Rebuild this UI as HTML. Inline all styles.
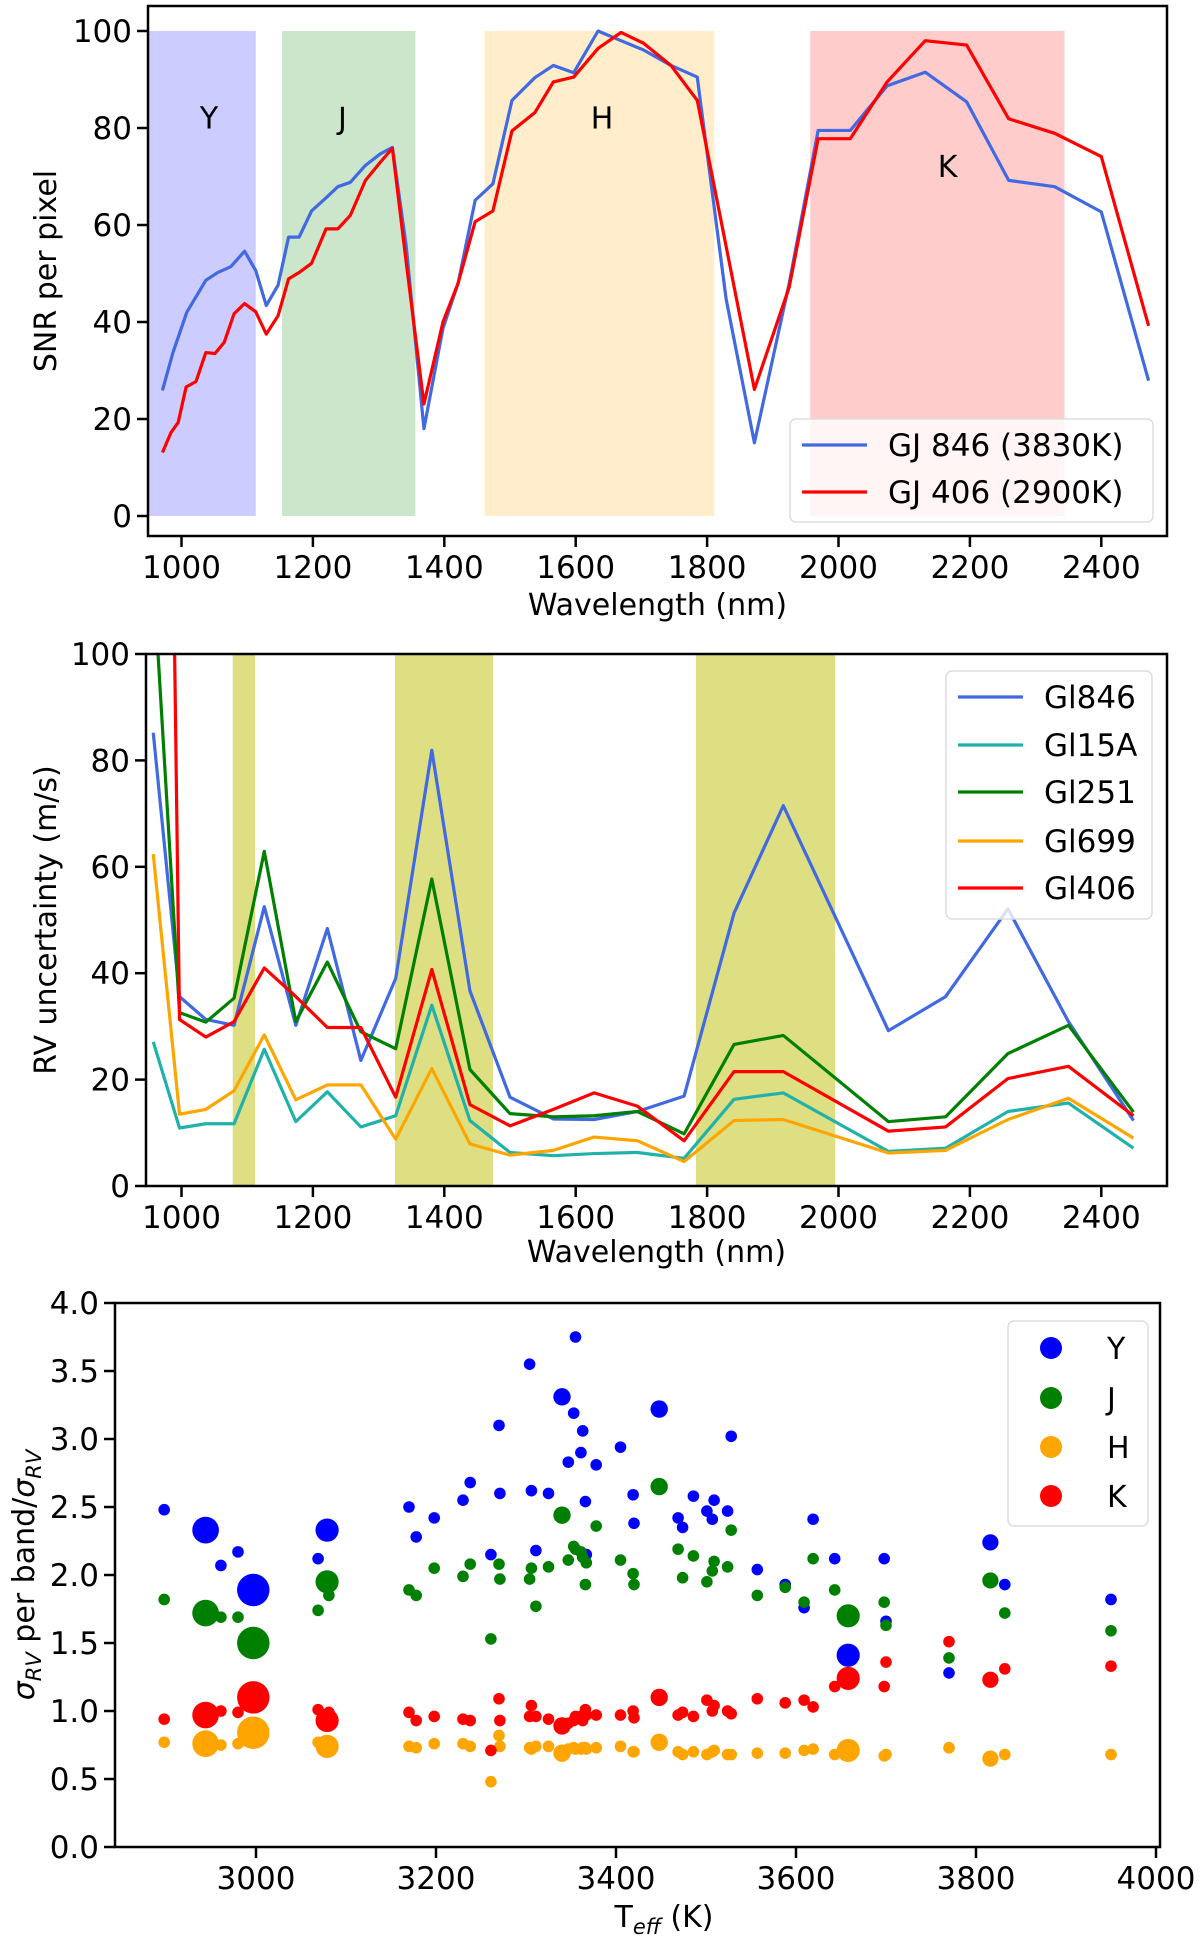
<!DOCTYPE html>
<html><head><meta charset="utf-8"><style>
html,body{margin:0;padding:0;background:#fff;}
svg{display:block;font-family:"DejaVu Sans","Liberation Sans",sans-serif;}
</style></head>
<body>
<svg id="fig" width="1200" height="1938" viewBox="0 0 1200 1938" xmlns="http://www.w3.org/2000/svg">
<defs>
<clipPath id="c1"><rect x="148" y="6" width="1019" height="530"/></clipPath>
<clipPath id="c2"><rect x="146" y="654" width="1021" height="532"/></clipPath>
</defs>
<g id="p1"></g>
<g id="p2"></g>
<g id="p3"></g>
</svg>
<script>
// ---------- Panel 1 data ----------
const snrBlueX = [971,987,1008,1037,1055,1075,1096,1113,1129,1147,1163,1179,1198,1220,1238,1257,1280,1303,1321,1342,1369,1398,1421,1447,1474,1503,1538,1566,1597,1634,1669,1703,1745,1785,1829,1872,1925,1969,2018,2074,2132,2195,2259,2329,2400,2472];
const snrBlueY = [25.9,33.7,42,48.6,50.2,51.4,54.6,50.6,43.4,47.6,57.5,57.5,62.9,65.6,67.9,68.8,72.3,74.7,76,55.7,18,38.7,48,65.1,68.5,85.7,90.4,92.9,91.4,100,98,96.1,92.9,90.5,44.7,15.1,48,79.5,79.5,88.7,91.5,85.4,69.2,67.9,62.7,27.9];
const snrRedX = [971,984,995,1007,1022,1037,1051,1065,1080,1096,1113,1129,1147,1163,1179,1198,1220,1238,1257,1280,1303,1321,1342,1369,1398,1421,1447,1474,1503,1538,1566,1597,1634,1669,1703,1745,1785,1872,1925,1969,2018,2074,2132,2195,2259,2329,2400,2472];
const snrRedY = [13.1,17.2,19.3,26.6,27.7,33.7,33.5,35.8,41.7,43.8,42.1,37.5,41.3,48.9,50.2,52.1,59.2,59.2,62,69.2,73,75.8,52.3,23.1,40,48,60.7,62.9,79.4,83.2,89.5,90.5,96.4,99.7,97.5,92.9,85.7,26.1,47.2,77.8,77.8,89.5,98,97.1,81.9,78.9,74.1,39.2];
const bandNames = ["Y","J","H","K"];
const bandStart = [949,1153,1461,1957];
const bandEnd = [1113,1356,1811,2344];
const bandLabelX = [1042,1245,1640,2166];
const bandLabelY = [82,82,82,72];
const p1TicksX = [1000,1200,1400,1600,1800,2000,2200,2400];
const p1TicksY = [0,20,40,60,80,100];

// ---------- Panel 2 data ----------
const rvX = [957,997,1037,1080,1126,1174,1222,1273,1326,1381,1439,1500,1566,1628,1694,1765,1841,1916,2076,2163,2258,2350,2449];
const rvGl846 = [85.2,35.6,31.3,30.2,52.5,30.2,48.4,23.6,39,81.9,36.7,16.7,12.6,12.5,14,16.9,51.3,71.5,29.2,35.6,52.1,30.9,12.3];
const rvGl15A = [27.1,10.9,11.7,11.7,25.7,12.1,17.7,11.1,13.2,34,12.3,6.3,5.7,6.1,6.3,5.2,16.3,17.5,6.5,7.1,14,15.6,7.1];
const rvGl251 = [115,32.6,30.8,35.3,62.9,30.9,42.1,29,25.8,57.7,21.9,13.6,13,13.2,14,9.8,26.6,28.3,12.1,13,24.9,30.2,13.9];
const rvGl699 = [62.4,13.5,14.4,17.9,28.4,16.2,19,19,8.8,22.1,7.9,5.8,6.7,9.2,8.5,4.6,12.3,12.5,6.2,6.7,12.5,16.5,9];
const rvGl406 = [400,31.3,28,30.9,41,35.6,29.8,29.8,16.7,40.7,15.3,11.3,14.4,17.5,15,8.5,21.5,21.5,10.3,11.1,20.2,22.5,13.2];
const shadeStart = [1078,1325,1783];
const shadeEnd = [1112,1474,1995];
const p2TicksX = [1000,1200,1400,1600,1800,2000,2200,2400];
const p2TicksY = [0,20,40,60,80,100];

// ---------- Panel 3 data ----------
const teff = [2898,2944,2961,2980,2997,3069,3079,3081,3170,3178,3198,3230,3238,3261,3270,3271,3304,3306,3311,3325,3340,3347,3353,3355,3361,3363,3366,3367,3378,3405,3419,3420,3448,3469,3474,3486,3501,3507,3509,3524,3528,3557,3588,3609,3619,3643,3658,3698,3700,3770,3816,3832,3950];
const ratioY = [2.48,2.33,2.07,2.17,1.89,2.12,2.33,2.33,2.50,2.28,2.42,2.55,2.68,2.15,3.10,2.60,3.55,2.62,2.18,2.60,3.31,2.83,3.19,3.75,2.90,3.06,2.54,2.15,2.81,2.94,2.59,2.38,3.22,2.42,2.35,2.58,2.47,2.41,2.55,2.47,3.02,2.04,1.93,1.76,2.41,2.12,1.41,2.12,1.66,1.28,2.24,1.93,1.82];
const ratioJ = [1.82,1.72,1.69,1.69,1.50,1.74,1.95,1.85,1.89,1.85,2.05,1.99,2.08,1.53,2.08,1.97,1.97,2.05,1.77,2.06,2.44,2.11,2.21,2.19,2.17,2.13,1.93,2.09,2.36,2.11,2.01,1.93,2.65,2.19,1.98,2.14,1.95,2.03,2.10,2.06,2.33,1.85,1.91,1.80,2.12,1.89,1.70,1.80,1.63,1.39,1.96,1.72,1.59];
const ratioH = [0.77,0.76,0.75,0.76,0.84,0.77,0.74,0.76,0.74,0.73,0.76,0.76,0.74,0.48,0.82,0.74,0.73,0.72,0.74,0.74,0.69,0.72,0.73,0.72,0.72,0.73,0.73,0.72,0.73,0.74,0.70,0.70,0.77,0.70,0.68,0.70,0.68,0.70,0.71,0.68,0.68,0.69,0.69,0.71,0.72,0.68,0.71,0.67,0.68,0.73,0.65,0.68,0.68];
const ratioK = [0.94,0.97,1.00,0.99,1.10,1.01,0.93,0.99,0.99,0.93,0.96,0.94,0.93,0.71,1.09,0.93,0.96,1.04,0.96,0.94,0.89,0.91,0.93,0.96,0.96,0.93,1.01,0.97,0.97,0.97,1.00,0.95,1.10,0.97,0.99,0.96,1.08,1.00,1.04,1.00,0.98,1.09,1.06,1.08,1.03,1.18,1.24,1.18,1.36,1.51,1.23,1.31,1.33];
const starSize = [1,2.3,1,1,2.8,1,2,1,1,1,1,1,1,1,1,1,1,1,1,1,1.5,1,1,1,1,1,1,1,1,1,1,1,1.5,1,1,1,1,1,1,1,1,1,1,1,1,1,2,1,1,1,1.4,1,1];
const p3TicksX = [3000,3200,3400,3600,3800,4000];
const p3TicksY = [0.0,0.5,1.0,1.5,2.0,2.5,3.0,3.5,4.0];

const NS = "http://www.w3.org/2000/svg";
function mk(parent, tag, attrs, text){
  const e = document.createElementNS(NS, tag);
  for (const k in attrs) e.setAttribute(k, attrs[k]);
  if (text !== undefined) e.textContent = text;
  parent.appendChild(e);
  return e;
}

// ---- Panel 1 ----
(function(){
  const g = document.getElementById('p1');
  const L=148,R=1167,T=6,B=536;
  const sx = v => 181.5 + (v-1000)*0.657;
  const sy = v => 516 - v*4.85;
  const bandColors = ["rgba(0,0,255,0.2)","rgba(0,128,0,0.2)","rgba(255,165,0,0.2)","rgba(255,0,0,0.2)"];
  for (let i=0;i<bandNames.length;i++){
    const r = mk(g,'rect',{x:sx(bandStart[i]),y:sy(100),width:sx(bandEnd[i])-sx(bandStart[i]),height:sy(0)-sy(100),fill:bandColors[i]});
    
    
    const t = mk(g,'text',{x:sx(bandLabelX[i]),y:sy(bandLabelY[i])+10,'font-size':30,'text-anchor':'middle',fill:'#000'},bandNames[i]);
    
    
  }
  const series = [[snrBlueX,snrBlueY,'#4169e1','gj846-line'],[snrRedX,snrRedY,'#ff0000','gj406-line']];
  for (const s of series){
    const p = mk(g,'polyline',{points:s[0].map((x,i)=>sx(x)+','+sy(s[1][i])).join(' '),fill:'none',stroke:s[2],'stroke-width':3.2,'stroke-linejoin':'round','clip-path':'url(#c1)'});
    
    
  }
  axes(g,L,R,T,B,p1TicksX,p1TicksY,sx,sy,v=>String(v),'Wavelength (nm)','SNR per pixel',605,46,'p1');
  const lg = mk(g,'g',{});
  
  
  mk(lg,'rect',{x:790,y:419,width:363,height:103,rx:6,fill:'rgba(255,255,255,0.8)',stroke:'#ddd','stroke-width':1.5});
  const le = [['GJ 846 (3830K)','#4169e1',445],['GJ 406 (2900K)','#ff0000',492]];
  for (const e of le){
    const ln = mk(lg,'line',{x1:802,x2:867,y1:e[2],y2:e[2],stroke:e[1],'stroke-width':3.2});
    
    
    const t = mk(lg,'text',{x:888,y:e[2]+11,'font-size':31,fill:'#000'},e[0]);
    
    
  }
})();

// ---- Panel 2 ----
(function(){
  const g = document.getElementById('p2');
  const L=146,R=1167,T=654,B=1186;
  const sx = v => 181.5 + (v-1000)*0.657;
  const sy = v => 1186 - v*5.32;
  for (let i=0;i<shadeStart.length;i++){
    const r = mk(g,'rect',{x:sx(shadeStart[i]),y:T,width:sx(shadeEnd[i])-sx(shadeStart[i]),height:B-T,fill:'#dede82'});
    
    
  }
  const series = [[rvGl846,'#4169e1','Gl846'],[rvGl15A,'#20b2aa','Gl15A'],[rvGl251,'#008000','Gl251'],[rvGl699,'#ffa500','Gl699'],[rvGl406,'#ff0000','Gl406']];
  for (const s of series){
    const p = mk(g,'polyline',{points:rvX.map((x,i)=>sx(x)+','+sy(s[0][i])).join(' '),fill:'none',stroke:s[1],'stroke-width':3.2,'stroke-linejoin':'round','clip-path':'url(#c2)'});
    
    
  }
  axes(g,L,R,T,B,p2TicksX,p2TicksY,sx,sy,v=>String(v),'Wavelength (nm)','RV uncertainty (m/s)',1252,46,'p2');
  const lg = mk(g,'g',{});
  
  
  mk(lg,'rect',{x:946,y:671,width:206,height:248,rx:6,fill:'rgba(255,255,255,0.8)',stroke:'#ddd','stroke-width':1.5});
  const ys=[697,745,792,841,888];
  series.forEach((s,i)=>{
    const ln = mk(lg,'line',{x1:958,x2:1023,y1:ys[i],y2:ys[i],stroke:s[1],'stroke-width':3.2});
    
    
    const t = mk(lg,'text',{x:1044,y:ys[i]+11,'font-size':31,fill:'#000'},s[2]);
    
    
  });
})();

// ---- Panel 3 ----
(function(){
  const g = document.getElementById('p3');
  const L=115,R=1160,T=1303,B=1847;
  const sx = v => 256 + (v-3000)*0.9;
  const sy = v => 1847 - v*136;
  const series = [[ratioY,'#0000ff','y'],[ratioJ,'#008000','j'],[ratioH,'#ffa500','h'],[ratioK,'#ff0000','k']];
  for (const s of series){
    for (let i=0;i<teff.length;i++){
      const c = mk(g,'circle',{cx:sx(teff[i]),cy:sy(s[0][i]),r:5.8*starSize[i],fill:s[1]});
      
      
    }
  }
  axes(g,L,R,T,B,p3TicksX,p3TicksY,sx,sy,v=>v.toFixed(v>=1000?0:1),null,null,1917,25,'p3');
  const xl = mk(g,'text',{x:664,y:1927,'font-size':30,'text-anchor':'middle',fill:'#000'});
  
  
  xl.innerHTML = 'T<tspan font-size="21" dy="7" font-style="italic">eff</tspan><tspan dy="-7"> (K)</tspan>';
  const yl = mk(g,'text',{transform:'translate(34,1575) rotate(-90)','font-size':30,'text-anchor':'middle',fill:'#000'});
  
  
  yl.innerHTML = '<tspan font-style="italic">σ</tspan><tspan font-size="21" dy="7" font-style="italic">RV</tspan><tspan dy="-7"> per band/</tspan><tspan font-style="italic">σ</tspan><tspan font-size="21" dy="7" font-style="italic">RV</tspan>';
  const lg = mk(g,'g',{});
  
  
  mk(lg,'rect',{x:1008,y:1321,width:140,height:205,rx:6,fill:'rgba(255,255,255,0.8)',stroke:'#ddd','stroke-width':1.5});
  const ys=[1348,1398,1447,1496], nm=['Y','J','H','K'];
  series.forEach((s,i)=>{
    const c = mk(lg,'circle',{cx:1051,cy:ys[i],r:11,fill:s[1]});
    
    
    const t = mk(lg,'text',{x:1107,y:ys[i]+11,'font-size':30,fill:'#000'},nm[i]);
    
    
  });
})();

function axes(g,L,R,T,B,tx,ty,sx,sy,fmt,xlab,ylab,xlabY,ylabX,id){
  const fr = mk(g,'rect',{x:L,y:T,width:R-L,height:B-T,fill:'none',stroke:'#000','stroke-width':2.5});
  
  
  for (const v of tx){
    const x = sx(v);
    mk(g,'line',{x1:x,x2:x,y1:B,y2:B+11,stroke:'#000','stroke-width':2.5});
    const t = mk(g,'text',{x:x,y:B+42,'font-size':31,'text-anchor':'middle',fill:'#000'},String(v));
    
    
  }
  for (const v of ty){
    const y = sy(v);
    mk(g,'line',{x1:L-11,x2:L,y1:y,y2:y,stroke:'#000','stroke-width':2.5});
    const t = mk(g,'text',{x:L-16,y:y+11,'font-size':31,'text-anchor':'end',fill:'#000'},fmt(v));
    
    
  }
  if (xlab){
    const t = mk(g,'text',{x:(L+R)/2,y:xlabY+10,'font-size':30,'text-anchor':'middle',fill:'#000'},xlab);
    
    
  }
  if (ylab){
    const t = mk(g,'text',{transform:'translate('+(ylabX+10)+','+((T+B)/2)+') rotate(-90)','font-size':30,'text-anchor':'middle',fill:'#000'},ylab);
    
    
  }
}
</script>
</body></html>
